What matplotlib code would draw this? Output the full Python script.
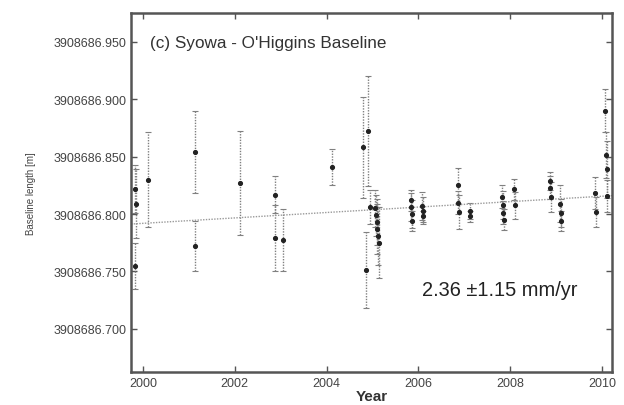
import matplotlib
matplotlib.use("Agg")
import matplotlib.pyplot as plt
import numpy as np
from matplotlib.ticker import FormatStrFormatter, MultipleLocator

plt.rcParams["font.family"] = ["Liberation Sans", "DejaVu Sans"]

BASE = 3908686.0

# decimal year, baseline length (m above BASE), 1-sigma error (m)
years = [1999.83, 1999.86, 1999.83, 2000.11, 2001.13, 2001.13, 2002.12, 2002.87,
         2002.87, 2003.05, 2004.11, 2004.80, 2004.91, 2004.87, 2004.95,
         2005.06, 2005.08, 2005.10, 2005.11, 2005.12, 2005.14,
         2005.84, 2005.85, 2005.86, 2005.87, 2006.08, 2006.10, 2006.11,
         2006.86, 2006.87, 2006.88, 2007.12, 2007.13,
         2007.83, 2007.84, 2007.85, 2007.86, 2008.09, 2008.11,
         2008.86, 2008.87, 2008.88, 2009.09, 2009.10, 2009.11,
         2009.86, 2009.88, 2010.07, 2010.08, 2010.10, 2010.11]
lengths = [0.822, 0.809, 0.755, 0.830, 0.854, 0.772, 0.827, 0.817,
           0.779, 0.777, 0.841, 0.858, 0.872, 0.751, 0.806,
           0.805, 0.799, 0.793, 0.787, 0.781, 0.775,
           0.812, 0.806, 0.800, 0.794, 0.807, 0.803, 0.798,
           0.825, 0.810, 0.802, 0.803, 0.798,
           0.815, 0.808, 0.801, 0.795, 0.8215, 0.8075,
           0.829, 0.823, 0.815, 0.809, 0.801, 0.794,
           0.818, 0.802, 0.890, 0.851, 0.839, 0.816]
errors = [0.021, 0.030, 0.020, 0.041, 0.036, 0.022, 0.045, 0.016,
          0.029, 0.027, 0.016, 0.044, 0.048, 0.033, 0.015,
          0.016, 0.018, 0.020, 0.022, 0.025, 0.031,
          0.009, 0.012, 0.012, 0.009, 0.012, 0.012, 0.005,
          0.015, 0.010, 0.015, 0.007, 0.005,
          0.010, 0.012, 0.010, 0.009, 0.009, 0.012,
          0.008, 0.010, 0.013, 0.016, 0.012, 0.009,
          0.014, 0.013, 0.019, 0.020, 0.025, 0.014]

# linear trend: value at 2005.0 and rate (m/yr)
trend_ref_year = 2005.0
trend_ref_value = 0.8037
trend_rate = 0.00236

xlim = (1999.74, 2010.22)
ylim = (BASE + 0.6625, BASE + 0.975)

fig = plt.figure(figsize=(6.24, 4.06), dpi=100)
ax = fig.add_axes([0.2099, 0.0813, 0.7709, 0.8842])

y_abs = BASE + np.array(lengths)
eb = ax.errorbar(years, y_abs, yerr=errors, fmt="o", ms=2.7, mfc="#222222", mec="#222222",
                 ecolor="#808080", elinewidth=1.0, capsize=2.2, capthick=0.8)
eb[2][0].set_linestyle((0, (1, 1)))

tx = np.array(xlim)
ty = BASE + trend_ref_value + trend_rate * (tx - trend_ref_year)
ax.plot(tx, ty, color="#999999", lw=1.0, ls=(0, (1, 1)))

ax.set_xlim(*xlim)
ax.set_ylim(*ylim)
ax.xaxis.set_major_locator(MultipleLocator(2))
ax.yaxis.set_major_locator(MultipleLocator(0.05))
ax.yaxis.set_major_formatter(FormatStrFormatter("%.3f"))

ax.tick_params(direction="in", length=4, width=1, top=True, right=True,
               labelsize=9, labelcolor="#444444", color="#555555")
for s in ax.spines.values():
    s.set_linewidth(1.8)
    s.set_color("#555555")

ax.set_xlabel("Year", fontsize=11, fontweight="bold", color="#333333", labelpad=0)
ax.set_ylabel("Baseline length [m]", fontsize=7, color="#444444", labelpad=12)

ax.text(0.04, 0.919, "(c) Syowa - O'Higgins Baseline", transform=ax.transAxes,
        fontsize=12.3, color="#333333", va="center", ha="left")
ax.text(0.605, 0.231, "2.36 \u00b11.15 mm/yr", transform=ax.transAxes,
        fontsize=14.4, color="#222222", va="center", ha="left")

fig.savefig("out.png", dpi=100)
